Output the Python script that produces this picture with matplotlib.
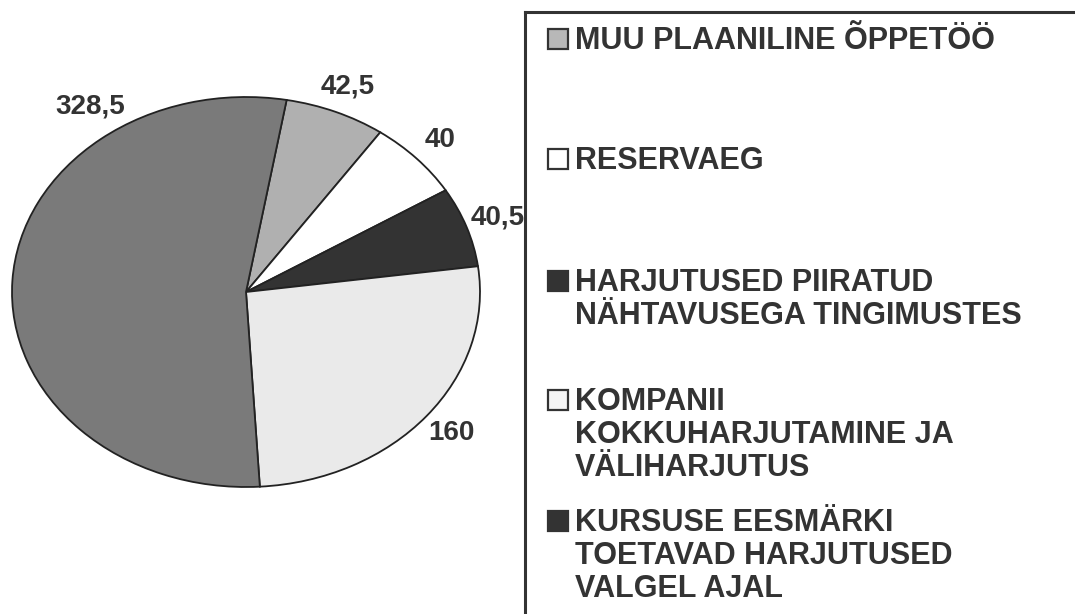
import numpy as np
import matplotlib
matplotlib.use("Agg")
import matplotlib.pyplot as plt
from matplotlib.patches import Rectangle
from matplotlib.lines import Line2D

plt.rcParams['font.family'] = ['Liberation Sans', 'DejaVu Sans']

# slices, clockwise from the top
values = [42.5, 40, 40.5, 160, 328.5]
value_labels = ["42,5", "40", "40,5", "160", "328,5"]
slice_colors = ["#b0b0b0", "#ffffff", "#333333", "#eaeaea", "#7a7a7a"]

legend_labels = [
    "MUU PLAANILINE ÕPPETÖÖ",
    "RESERVAEG",
    "HARJUTUSED PIIRATUD\nNÄHTAVUSEGA TINGIMUSTES",
    "KOMPANII\nKOKKUHARJUTAMINE JA\nVÄLIHARJUTUS",
    "KURSUSE EESMÄRKI\nTOETAVAD HARJUTUSED\nVALGEL AJAL",
]
legend_colors = ["#b8b8b8", "#ffffff", "#333333", "#f4f4f4", "#333333"]

W, H = 1075, 614
fig = plt.figure(figsize=(W / 100, H / 100), dpi=100)

# elliptical pie: axes box = ellipse bounding box
cx, cy, rx, ry = 246, 292, 234, 195
ax = fig.add_axes([(cx - rx) / W, (H - cy - ry) / H, 2 * rx / W, 2 * ry / H])
wedges, _ = ax.pie(values, colors=slice_colors, startangle=80, counterclock=False,
                   radius=1, wedgeprops=dict(edgecolor="#222222", linewidth=1.3))
ax.set_aspect("auto")
ax.set_xlim(-1, 1)
ax.set_ylim(-1, 1)
ax.axis("off")

for w, lab in zip(wedges, value_labels):
    ang = (w.theta1 + w.theta2) / 2
    dist = 1.14
    if lab == "328,5":
        ang, dist = 125, 1.16
    x = dist * np.cos(np.radians(ang))
    y = dist * np.sin(np.radians(ang))
    ax.text(x, y, lab, ha="center", va="center", fontsize=20,
            fontweight="bold", color="#333333", clip_on=False, zorder=1)

# legend box (left and top edges visible)
box_l, box_t = 525, 12
fig.patches.append(Rectangle((box_l / W, 0), 1.0, (H - box_t) / H, transform=fig.transFigure,
                             facecolor="white", edgecolor="none", zorder=2))
fig.lines.append(Line2D([box_l / W, box_l / W], [0, (H - box_t) / H],
                        transform=fig.transFigure, color="#333333", lw=2.2, zorder=3))
fig.lines.append(Line2D([box_l / W, 1], [(H - box_t) / H, (H - box_t) / H],
                        transform=fig.transFigure, color="#333333", lw=2.2, zorder=3))

# baseline of the first line of each legend entry, in pixels from the top
item_base = [49, 169, 291, 410, 531]
line_step = 33
sq = 20
for base, lab, col in zip(item_base, legend_labels, legend_colors):
    fig.patches.append(Rectangle((548 / W, (H - base) / H), sq / W, sq / H,
                                 transform=fig.transFigure, facecolor=col,
                                 edgecolor="#333333", lw=1.6, zorder=4))
    for i, line in enumerate(lab.split("\n")):
        fig.text(575 / W, (H - base - i * line_step) / H, line, ha="left",
                 va="baseline", fontsize=22, fontweight="bold", color="#333333",
                 zorder=4)

fig.savefig("out.png", dpi=100)
